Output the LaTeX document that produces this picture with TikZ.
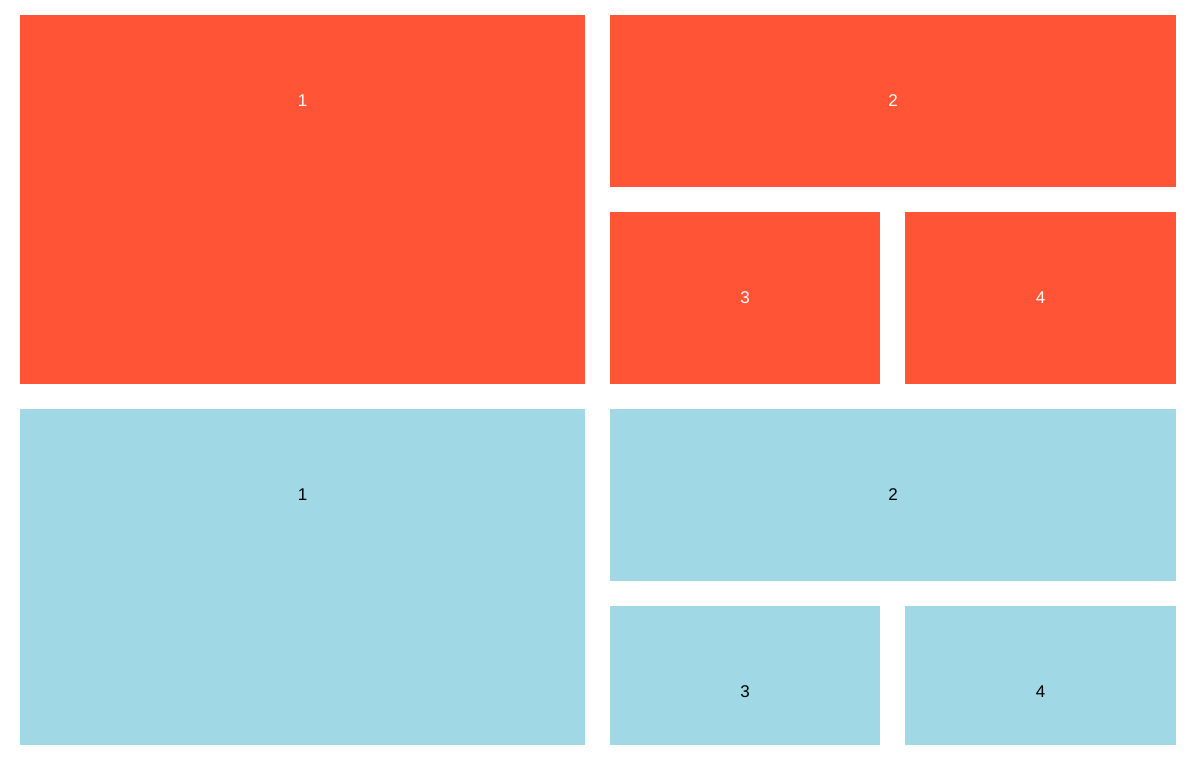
\documentclass[tikz,border=0pt]{standalone}
\usepackage{fontspec}
\setmainfont{Liberation Sans}
\definecolor{tomatored}{HTML}{FF5436}
\definecolor{lightblue}{HTML}{A1D8E6}
\tikzset{
  tile/.style={draw=none, inner sep=0pt, outer sep=0pt, anchor=north west},
  redtile/.style={tile, fill=tomatored},
  bluetile/.style={tile, fill=lightblue},
  lbl/.style={inner sep=0pt, font=\fontsize{17}{20}\selectfont},
  redlbl/.style={lbl, text=white},
  bluelbl/.style={lbl, text=black}
}
\begin{document}
\begin{tikzpicture}[x=1pt,y=-1pt]
\useasboundingbox (0,0) rectangle (1194,765);
% red group
\node[redtile, minimum width=565pt, minimum height=369pt] (r1) at (20,15) {};
\node[redtile, minimum width=566pt, minimum height=172pt] (r2) at (610,15) {};
\node[redtile, minimum width=270pt, minimum height=172pt] (r3) at (610,212) {};
\node[redtile, minimum width=271pt, minimum height=172pt] (r4) at (905,212) {};
\node[redlbl] (r1l) at (302.5,101) {1};
\node[redlbl] (r2l) at (893,101) {2};
\node[redlbl] (r3l) at (745,298) {3};
\node[redlbl] (r4l) at (1040.5,298) {4};
% blue group
\node[bluetile, minimum width=565pt, minimum height=336pt] (b1) at (20,409) {};
\node[bluetile, minimum width=566pt, minimum height=172pt] (b2) at (610,409) {};
\node[bluetile, minimum width=270pt, minimum height=139pt] (b3) at (610,606) {};
\node[bluetile, minimum width=271pt, minimum height=139pt] (b4) at (905,606) {};
\node[bluelbl] (b1l) at (302.5,495) {1};
\node[bluelbl] (b2l) at (893,495) {2};
\node[bluelbl] (b3l) at (745,692) {3};
\node[bluelbl] (b4l) at (1040.5,692) {4};
\end{tikzpicture}
\end{document}
